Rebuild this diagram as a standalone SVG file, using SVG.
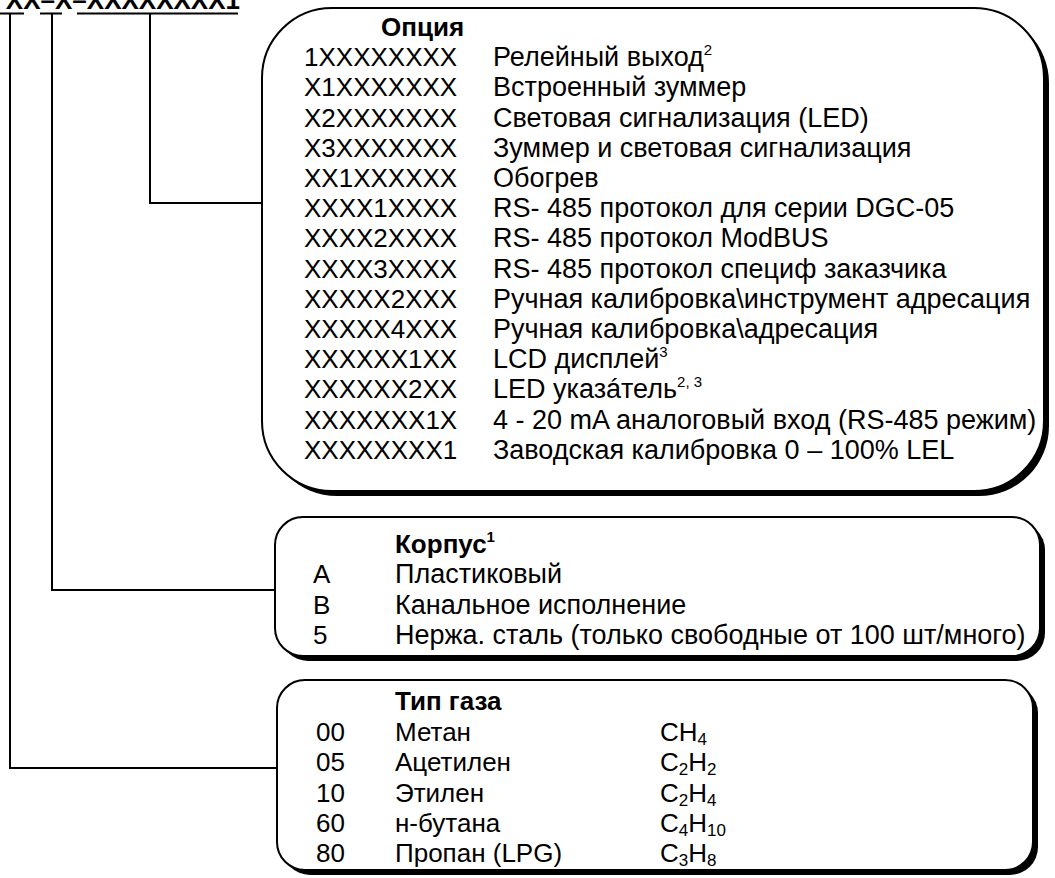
<svg xmlns="http://www.w3.org/2000/svg" width="1055" height="878" viewBox="0 0 1055 878">
<style>
text{font-family:"Liberation Sans",Arial,sans-serif;font-size:26px;fill:#000}
.b{font-weight:bold}
.d{font-size:27px}
.sup{font-size:15px}
.sub{font-size:17px}
.box{fill:#fff;stroke:#000;stroke-width:2}
.sh{fill:#000}
.ln{stroke:#000;stroke-width:2;fill:none}
</style>
<rect width="1055" height="878" fill="#fff"/>
<g id="code">
<text class="b" x="240" y="9" text-anchor="end">XX–X–XXXXXXXX1</text>
<line class="ln" x1="0" y1="13.5" x2="24" y2="13.5"/>
<line class="ln" x1="40" y1="13.5" x2="62" y2="13.5"/>
<line class="ln" x1="77" y1="13.5" x2="238" y2="13.5"/>
</g>
<g id="connectors">
<polyline class="ln" points="150,13 150,203 262,203"/>
<polyline class="ln" points="52,13 52,590 275,590"/>
<polyline class="ln" points="10,13 10,768 277,768"/>
</g>
<g id="option">
<rect class="sh" x="267" y="13" width="782" height="483" rx="70"/>
<rect class="box" x="262" y="8" width="782" height="483" rx="70"/>
<text class="b" x="381" y="36">Опция</text>
<text x="304" y="66">1XXXXXXXX</text><text class="d" x="493" y="66">Релейный выход<tspan class="sup" dy="-11">2</tspan></text>
<text x="304" y="96">X1XXXXXXX</text><text class="d" x="493" y="96">Встроенный зуммер</text>
<text x="304" y="127">X2XXXXXXX</text><text class="d" x="493" y="127">Световая сигнализация (LED)</text>
<text x="304" y="157">X3XXXXXXX</text><text class="d" x="493" y="157">Зуммер и световая сигнализация</text>
<text x="304" y="187">XX1XXXXXX</text><text class="d" x="493" y="187">Обогрев</text>
<text x="304" y="217">XXXX1XXXX</text><text class="d" x="493" y="217">RS- 485 протокол для серии DGC-05</text>
<text x="304" y="247">XXXX2XXXX</text><text class="d" x="493" y="247">RS- 485 протокол ModBUS</text>
<text x="304" y="278">XXXX3XXXX</text><text class="d" x="493" y="278">RS- 485 протокол специф заказчика</text>
<text x="304" y="308">XXXXX2XXX</text><text class="d" x="493" y="308">Ручная калибровка\инструмент адресация</text>
<text x="304" y="338">XXXXX4XXX</text><text class="d" x="493" y="338">Ручная калибровка\адресация</text>
<text x="304" y="368">XXXXXX1XX</text><text class="d" x="493" y="368">LCD дисплей<tspan class="sup" dy="-11">3</tspan></text>
<text x="304" y="398">XXXXXX2XX</text><text class="d" x="493" y="398">LED указáтель<tspan class="sup" dy="-11">2, 3</tspan></text>
<text x="304" y="429">XXXXXXX1X</text><text class="d" x="493" y="429">4 - 20 mA аналоговый вход (RS-485 режим)</text>
<text x="304" y="459">XXXXXXXX1</text><text class="d" x="493" y="459">Заводская калибровка 0 – 100% LEL</text>
</g>
<g id="housing">
<rect class="sh" x="280" y="522" width="765" height="139" rx="28"/>
<rect class="box" x="275" y="517" width="765" height="139" rx="28"/>
<text class="b" x="395" y="553">Корпус<tspan class="sup" dy="-11">1</tspan></text>
<text x="313" y="583">A</text><text class="d" x="395" y="583">Пластиковый</text>
<text x="313" y="614">B</text><text class="d" x="395" y="614">Канальное исполнение</text>
<text x="313" y="644">5</text><text class="d" x="395" y="644">Нержа. сталь (только свободные от 100 шт/много)</text>
</g>
<g id="gas">
<rect class="sh" x="282" y="685" width="756" height="190" rx="28"/>
<rect class="box" x="277" y="680" width="756" height="190" rx="28"/>
<text class="b" x="395" y="710">Тип газа</text>
<text x="316" y="741">00</text><text x="395" y="741">Метан</text><text x="660" y="741">CH<tspan class="sub" dy="4">4</tspan></text>
<text x="316" y="771">05</text><text x="395" y="771">Ацетилен</text><text x="660" y="771">C<tspan class="sub" dy="4">2</tspan><tspan dy="-4">H</tspan><tspan class="sub" dy="4">2</tspan></text>
<text x="316" y="802">10</text><text x="395" y="802">Этилен</text><text x="660" y="802">C<tspan class="sub" dy="4">2</tspan><tspan dy="-4">H</tspan><tspan class="sub" dy="4">4</tspan></text>
<text x="316" y="832">60</text><text x="395" y="832">н-бутана</text><text x="660" y="832">C<tspan class="sub" dy="4">4</tspan><tspan dy="-4">H</tspan><tspan class="sub" dy="4">10</tspan></text>
<text x="316" y="862">80</text><text x="395" y="862">Пропан (LPG)</text><text x="660" y="862">C<tspan class="sub" dy="4">3</tspan><tspan dy="-4">H</tspan><tspan class="sub" dy="4">8</tspan></text>
</g>
</svg>
